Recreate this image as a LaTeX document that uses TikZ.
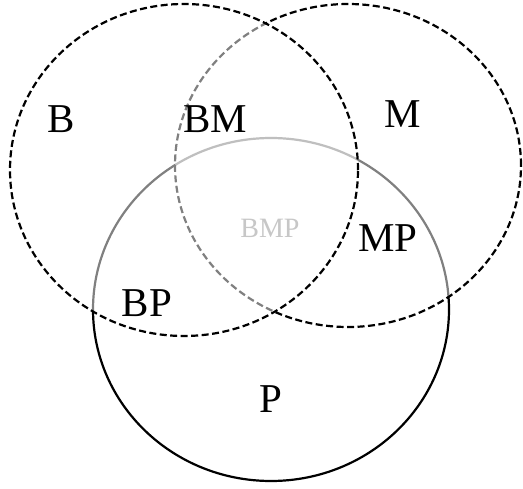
\documentclass[tikz,border=0pt]{standalone}
\usepackage{fontspec}
\setmainfont{Liberation Serif}
\usetikzlibrary{shapes.geometric}
\tikzset{
  setring/.style={ellipse, inner sep=0pt, outer sep=0pt, line width=2.2pt, draw=black},
  veiled/.style={fill=white, fill opacity=0.5},
  dashring/.style={setring, veiled, dash pattern=on 7pt off 3.5pt},
  biglabel/.style={anchor=base, font=\fontsize{41}{41}\selectfont, inner sep=0pt},
  smalllabel/.style={anchor=base, font=\fontsize{28}{28}\selectfont, inner sep=0pt, text=black!22}
}
\begin{document}
\begin{tikzpicture}[x=1pt, y=-1pt]
  \useasboundingbox (0,0) rectangle (523,489);
  % P first, then M and B, each veiling what lies beneath
  \node[setring, minimum width=356pt, minimum height=343pt] (P) at (271,309.5) {};
  \node[dashring, minimum width=346pt, minimum height=323pt] (M) at (348,165.5) {};
  \node[dashring, minimum width=348pt, minimum height=332pt] (B) at (184,170) {};
  % region labels
  \node[biglabel] (lB)  at (61,133)  {B};
  \node[biglabel] (lBM) at (215,133) {BM};
  \node[biglabel] (lM)  at (403,128) {M};
  \node[smalllabel] (lBMP) at (270,238) {BMP};
  \node[biglabel] (lMP) at (388,252) {MP};
  \node[biglabel] (lBP) at (147,317) {BP};
  \node[biglabel] (lP)  at (271,413) {P};
\end{tikzpicture}
\end{document}
